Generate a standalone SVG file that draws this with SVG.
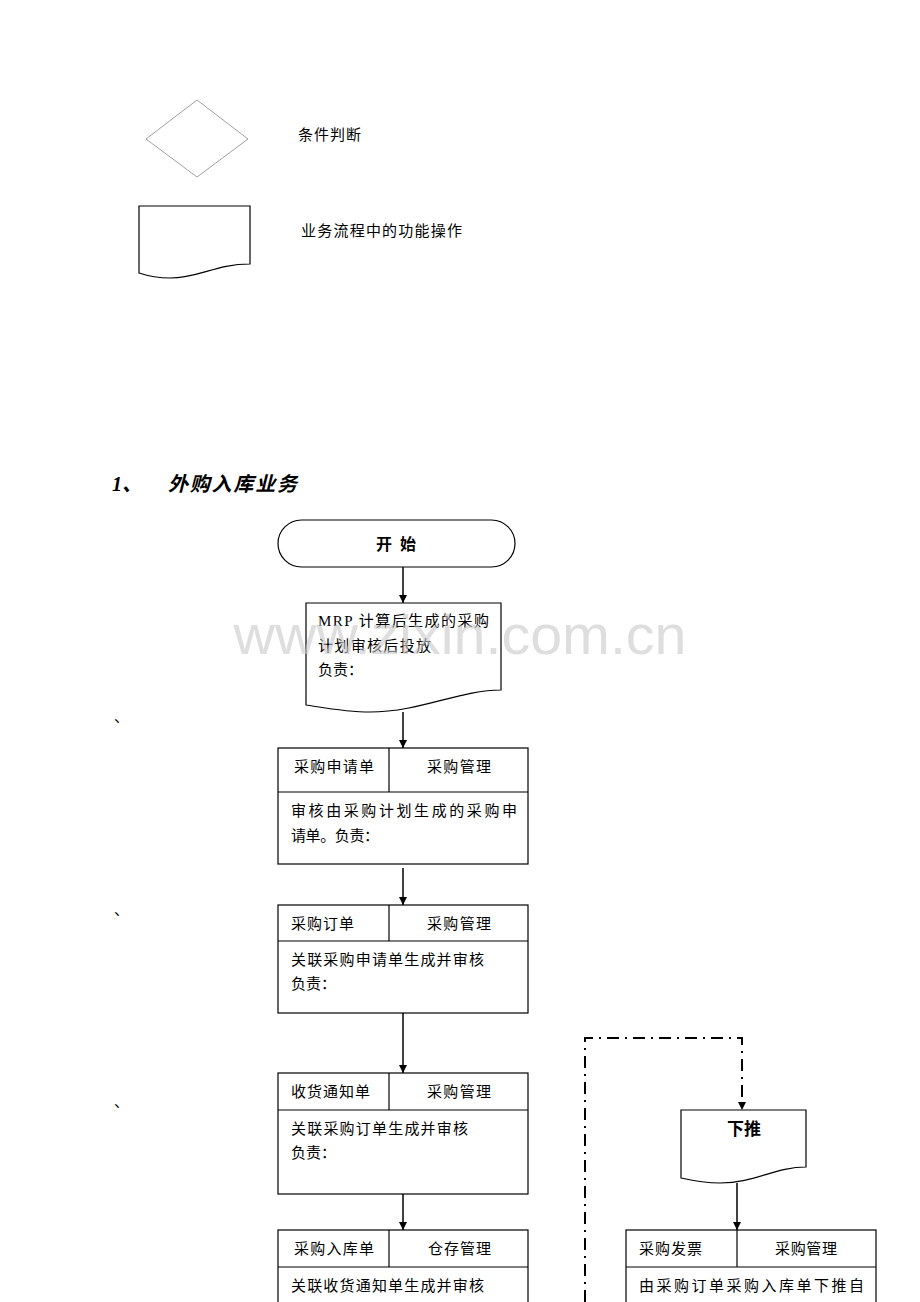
<svg xmlns="http://www.w3.org/2000/svg" width="920" height="1302" viewBox="0 0 920 1302">
<style>
.t{font-family:"Liberation Serif","Noto Sans CJK SC",serif;font-size:15px;fill:#000}
.b{font-weight:bold}
.h{font-size:20px;font-style:italic;font-weight:bold}
.s16{font-size:16px}
.s17{font-size:17px}
.box{fill:#fff;stroke:#000;stroke-width:1.2}
.ln{stroke:#000;stroke-width:1.2;fill:none}
.ar{stroke:#000;stroke-width:1.5;fill:none;marker-end:url(#ah)}
.wm{font-family:"Liberation Sans",Arial,sans-serif;font-size:56px;fill:#c8c8c8;fill-opacity:0.6}
</style>
<defs>
<marker id="ah" viewBox="0 0 10 10" refX="10" refY="5" markerWidth="8" markerHeight="8" markerUnits="userSpaceOnUse" orient="auto"><path d="M0,0L10,5L0,10z" fill="#000"/></marker>
</defs>
<rect width="920" height="1302" fill="#fff"/>

<g id="legend-diamond">
<path d="M197,100L248,139L197,177L146,139Z" fill="#fff" stroke="#888" stroke-width="0.8"/>
<text class="t" x="298" y="140" textLength="63">条件判断</text>
</g>
<g id="legend-doc">
<path d="M139,206H250V264C215,264 200,278 170,278C155,278 145,275 139,273Z" class="box"/>
<text class="t" x="301" y="236" textLength="161">业务流程中的功能操作</text>
</g>

<g id="heading">
<text class="t h" x="112" y="491">1、</text>
<text class="t h" x="168" y="491" textLength="129">外购入库业务</text>
</g>

<g id="marks">
<text class="t" x="114" y="722">、</text>
<text class="t" x="114" y="915">、</text>
<text class="t" x="114" y="1107">、</text>
</g>

<g id="connectors">
<line class="ar" x1="403" y1="567" x2="403" y2="603"/>
<line class="ar" x1="403" y1="712" x2="403" y2="748"/>
<line class="ar" x1="403" y1="868" x2="403" y2="905"/>
<line class="ar" x1="403" y1="1013" x2="403" y2="1073"/>
<line class="ar" x1="403" y1="1194" x2="403" y2="1230"/>
<path d="M585,1302V1038H742V1110" stroke="#000" stroke-width="2" fill="none" stroke-dasharray="12,6,2,6" marker-end="url(#ah)"/>
<line class="ar" x1="737" y1="1183" x2="737" y2="1230"/>
</g>

<g id="start">
<rect x="278" y="520" width="237" height="47" rx="23.5" class="box"/>
<text class="t b s16" x="376" y="550">开</text>
<text class="t b s16" x="400" y="550">始</text>
</g>

<g id="mrp">
<path d="M306,603H501V690C460,690 420,712 370,712C345,712 320,707 306,705Z" class="box"/>
<text class="t" x="318" y="626" textLength="171">MRP 计算后生成的采购</text>
<text class="t" x="318" y="651" textLength="113">计划审核后投放</text>
<text class="t" x="318" y="675">负责：</text>
</g>

<g id="req">
<rect x="278" y="748" width="250" height="116" class="box"/>
<line class="ln" x1="278" y1="792" x2="528" y2="792"/>
<line class="ln" x1="389" y1="748" x2="389" y2="792"/>
<text class="t" x="294" y="772" textLength="80">采购申请单</text>
<text class="t" x="427" y="772" textLength="64">采购管理</text>
<text class="t" x="291" y="816" textLength="226">审核由采购计划生成的采购申</text>
<text class="t" x="291" y="841" textLength="88">请单。负责：</text>
</g>

<g id="order">
<rect x="278" y="905" width="250" height="108" class="box"/>
<line class="ln" x1="278" y1="941" x2="528" y2="941"/>
<line class="ln" x1="389" y1="905" x2="389" y2="941"/>
<text class="t" x="291" y="929" textLength="63">采购订单</text>
<text class="t" x="427" y="929" textLength="64">采购管理</text>
<text class="t" x="291" y="965" textLength="193">关联采购申请单生成并审核</text>
<text class="t" x="291" y="989">负责：</text>
</g>

<g id="receipt">
<rect x="278" y="1073" width="250" height="121" class="box"/>
<line class="ln" x1="278" y1="1110" x2="528" y2="1110"/>
<line class="ln" x1="389" y1="1073" x2="389" y2="1110"/>
<text class="t" x="291" y="1097" textLength="79">收货通知单</text>
<text class="t" x="427" y="1097" textLength="64">采购管理</text>
<text class="t" x="291" y="1134" textLength="177">关联采购订单生成并审核</text>
<text class="t" x="291" y="1158">负责：</text>
</g>

<g id="instock">
<rect x="278" y="1230" width="250" height="80" class="box"/>
<line class="ln" x1="278" y1="1267" x2="528" y2="1267"/>
<line class="ln" x1="389" y1="1230" x2="389" y2="1267"/>
<text class="t" x="294" y="1254" textLength="80">采购入库单</text>
<text class="t" x="428" y="1254" textLength="63">仓存管理</text>
<text class="t" x="291" y="1291" textLength="193">关联收货通知单生成并审核</text>
</g>

<g id="push">
<path d="M681,1110H806V1167C775,1167 755,1183 720,1183C705,1183 690,1180 681,1178Z" class="box"/>
<text class="t b s17" x="727" y="1135">下推</text>
</g>

<g id="invoice">
<rect x="626" y="1230" width="250" height="80" class="box"/>
<line class="ln" x1="626" y1="1267" x2="876" y2="1267"/>
<line class="ln" x1="737" y1="1230" x2="737" y2="1267"/>
<text class="t" x="639" y="1254" textLength="63">采购发票</text>
<text class="t" x="775" y="1254" textLength="62">采购管理</text>
<text class="t" x="639" y="1291" textLength="225">由采购订单采购入库单下推自</text>
</g>

<text class="wm" x="460" y="654" text-anchor="middle" textLength="453" lengthAdjust="spacingAndGlyphs">www.zixin.com.cn</text>
</svg>
